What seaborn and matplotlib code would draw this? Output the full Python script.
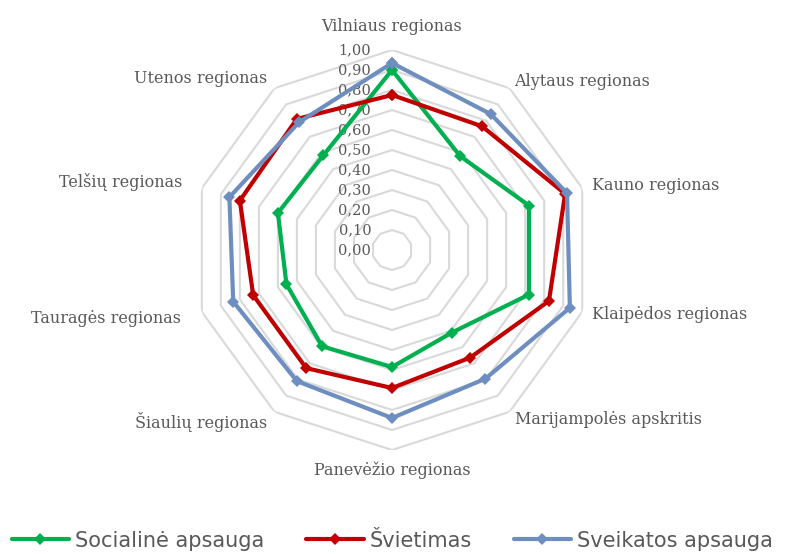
import numpy as np
import pandas as pd
import matplotlib
matplotlib.use('Agg')
import matplotlib.pyplot as plt
import seaborn as sns

regions = ['Vilniaus regionas', 'Alytaus regionas', 'Kauno regionas', 'Klaipėdos regionas',
           'Marijampolės apskritis', 'Panevėžio regionas', 'Šiaulių regionas',
           'Tauragės regionas', 'Telšių regionas', 'Utenos regionas']
socialine = [0.90, 0.58, 0.72, 0.72, 0.51, 0.585, 0.595, 0.555, 0.60, 0.585]
svietimas = [0.775, 0.765, 0.91, 0.825, 0.665, 0.69, 0.73, 0.73, 0.80, 0.81]
sveikata = [0.935, 0.84, 0.92, 0.935, 0.795, 0.84, 0.81, 0.835, 0.855, 0.79]
series_names = ['Socialinė apsauga', 'Švietimas', 'Sveikatos apsauga']
colors = ['#00b050', '#c00000', '#6e8ec0']
ticks = np.round(np.arange(0, 1.01, 0.1), 2)
tick_labels = [f'{t:.2f}'.replace('.', ',') for t in ticks]

# label distance from centre (in data units) for each category
label_r = [1.12, 1.04, 1.05, 1.05, 1.05, 1.10, 1.06, 1.11, 1.10, 1.06]

sns.set_theme(style='white')
plt.rcParams['font.family'] = ['DejaVu Serif', 'DejaVu Sans']
text_color = '#595959'

n = len(regions)
theta = np.arange(n) * 2 * np.pi / n
theta_closed = np.append(theta, 2 * np.pi)

rows = []
for name, vals in zip(series_names, [socialine, svietimas, sveikata]):
    vals_closed = list(vals) + [vals[0]]
    for th, v in zip(theta_closed, vals_closed):
        rows.append({'theta': th, 'value': v, 'series': name})
df = pd.DataFrame(rows)

fig = plt.figure(figsize=(7.85, 5.54), dpi=100)
ax = fig.add_axes([0.2446, 0.1877, 0.5096, 0.722], projection='polar')
ax.set_theta_zero_location('N')
ax.set_theta_direction(-1)
ax.grid(False)
ax.spines['polar'].set_visible(False)
ax.set_facecolor('white')

# polygon gridlines
for t in ticks[1:]:
    ax.plot(theta_closed, [t] * len(theta_closed), color='#d9d9d9', lw=1.5, zorder=1)

sns.lineplot(data=df, x='theta', y='value', hue='series', hue_order=series_names,
             palette=colors, sort=False, estimator=None, marker='D', markersize=6.5,
             markeredgewidth=0, lw=3, ax=ax, legend=False, zorder=3)

ax.set_ylim(0, 1)
ax.set_xticks([])
ax.set_yticks([])
ax.set_xlabel('')
ax.set_ylabel('')

for t, lbl in zip(ticks, tick_labels):
    ax.annotate(lbl, xy=(0, t), xytext=(-15, 0), textcoords='offset points',
                ha='right', va='center', fontsize=10.5, color=text_color, zorder=2)

for th, name, r in zip(theta, regions, label_r):
    s = np.sin(th)
    ha = 'left' if s > 0.1 else ('right' if s < -0.1 else 'center')
    ax.text(th, r, name, ha=ha, va='center', fontsize=11.5, color=text_color,
            clip_on=False)

handles = ax.lines[-3:]
leg = fig.legend(handles, series_names, loc='center', bbox_to_anchor=(0.5, 0.024),
                 ncol=3, frameon=False, handlelength=2.75, handletextpad=0.3,
                 columnspacing=2.0, prop={'family': ['DejaVu Sans'], 'size': 15})
for txt in leg.get_texts():
    txt.set_color(text_color)

fig.savefig('out.png', dpi=100)
